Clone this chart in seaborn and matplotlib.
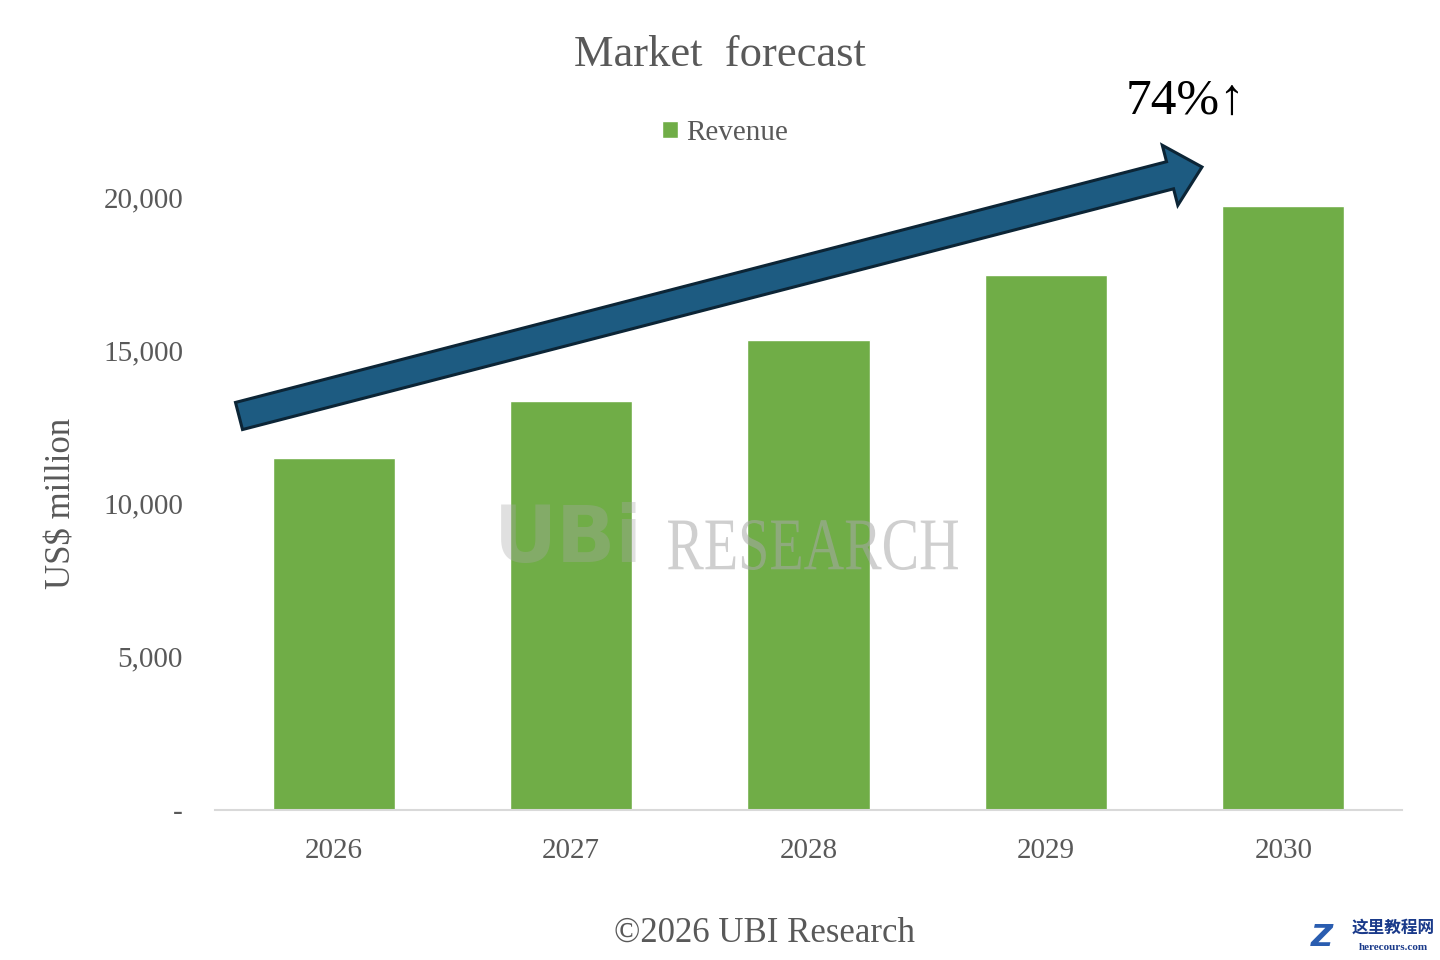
import matplotlib
matplotlib.use("Agg")
import matplotlib.pyplot as plt
from matplotlib.patches import Polygon, PathPatch
from matplotlib.textpath import TextPath
from matplotlib.font_manager import FontProperties
from matplotlib.transforms import Affine2D
from matplotlib.ticker import FuncFormatter
import numpy as np
import pandas as pd
import seaborn as sns

# data
years = ["2026", "2027", "2028", "2029", "2030"]
revenue = [11500, 13350, 15350, 17450, 19700]
yticks = [0, 5000, 10000, 15000, 20000]

sns.set_theme(style="white")
plt.rcParams['font.family'] = ['Liberation Serif', 'DejaVu Serif']
grey = '#595959'

df = pd.DataFrame({'year': years, 'revenue': revenue, 'series': 'Revenue'})

fig = plt.figure(figsize=(14.4, 9.6), dpi=100)
ax = fig.add_axes([215/1440, 1-810/960, (1402-215)/1440, (810-197)/960])

sns.barplot(data=df, x='year', y='revenue', hue='series', palette=['#70AD47'],
            width=0.515, saturation=1, ax=ax)
ax.set_xlim(-0.5, 4.5)
ax.set_ylim(0, 20000)
ax.set_yticks(yticks)
ax.yaxis.set_major_formatter(FuncFormatter(lambda v, p: '-' if v == 0 else f'{int(v):,}'))
ax.tick_params(axis='y', length=0, pad=23, labelsize=21, labelcolor=grey)
ax.tick_params(axis='x', length=0, pad=20, labelsize=21, labelcolor=grey)
ax.set_xlabel('')
ax.set_ylabel('US$ million', fontsize=25, color=grey, labelpad=18)
for s in ['top', 'right', 'left']:
    ax.spines[s].set_visible(False)
ax.spines['bottom'].set_color('#d9d9d9')
ax.spines['bottom'].set_linewidth(1.5)

leg = ax.legend(loc='center', bbox_to_anchor=(725/1440, 1-133/960), bbox_transform=fig.transFigure,
                frameon=False, fontsize=21, handlelength=0.55, handleheight=0.55, handletextpad=0.3)
for t in leg.get_texts():
    t.set_color(grey)

fig.text(720/1440, 1-55/960, 'Market  forecast', ha='center', va='center', fontsize=32, color=grey)
fig.text(1186/1440, 1-102/960, '74%\u2191', ha='center', va='center', fontsize=37, color='black')
fig.text(765/1440, 1-933/960, '\u00a92026 UBI Research', ha='center', va='center', fontsize=25, color=grey)

# watermark: condensed "RESEARCH" via a scaled text path (pixel space)
fp = FontProperties(family='Liberation Serif')
tp = TextPath((0, 0), 'RESEARCH', size=50, prop=fp)
ext = tp.get_extents()
sx = 290 / ext.width
sy = 50 / ext.height
tr = Affine2D().translate(-ext.x0, -ext.y0).scale(sx / 1440, sy / 960).translate(668/1440, 1-570/960)
fig.patches.append(PathPatch(tr.transform_path(tp), transform=fig.transFigure,
                             facecolor='#a8a8a8', edgecolor='none', alpha=0.55, zorder=4))
fig.text(568/1440, 1-540/960, 'UBi', ha='center', va='center', fontsize=56, fontweight='bold',
         color='#a8a8a8', alpha=0.35, family='DejaVu Sans')

# big arrow, drawn in pixel space
tail = np.array([239.0, 416.0])
tip = np.array([1202.0, 167.0])
u = (tip - tail) / np.linalg.norm(tip - tail)
n = np.array([-u[1], u[0]])
if n[1] < 0:
    n = -n
base = tip - 33 * u
pts = [tail - 14*n, base - 14*n, base - 31*n, tip, base + 31*n, base + 14*n, tail + 14*n]
pts = [(p[0]/1440, 1 - p[1]/960) for p in pts]
fig.patches.append(Polygon(pts, closed=True, transform=fig.transFigure, facecolor='#1D5B81',
                           edgecolor='#0C2536', linewidth=2.2, joinstyle='miter', zorder=5))

# site watermark bottom right
fig.text(1393/1440, 1-928/960, '这里教程网', ha='center', va='center', fontsize=12, fontweight='bold',
         color='#1a3a8a', family=['Noto Sans CJK SC', 'DejaVu Sans'])
fig.text(1393/1440, 1-947/960, 'herecours.com', ha='center', va='center', fontsize=8, fontweight='bold',
         color='#1a3a8a')
fig.text(1322/1440, 1-937/960, 'Z', ha='center', va='center', fontsize=22, fontweight='bold',
         color='#2a5db0', family='DejaVu Sans', style='italic')

fig.savefig('out.png', dpi=100)
